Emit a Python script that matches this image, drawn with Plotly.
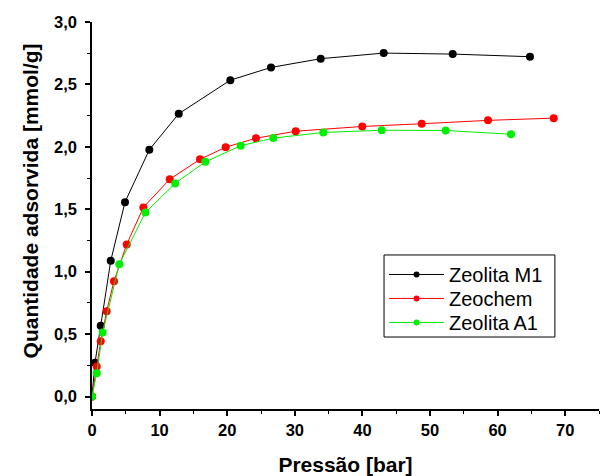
import plotly.graph_objects as go

# Zeolita M1
m1_p = [0.0, 0.44, 1.29, 2.77, 4.88, 8.48, 12.83, 20.46, 26.48, 33.83, 43.15, 53.36, 64.79]
m1_q = [0.0, 0.27, 0.567, 1.087, 1.557, 1.977, 2.265, 2.534, 2.636, 2.706, 2.751, 2.743, 2.722]

# Zeochem
zc_p = [0.0, 0.70, 1.29, 2.17, 3.25, 5.13, 7.6, 11.5, 15.98, 19.78, 24.26, 30.13, 39.98, 48.77, 58.58, 68.3]
zc_q = [0.0, 0.24, 0.443, 0.683, 0.924, 1.218, 1.515, 1.74, 1.90, 1.997, 2.069, 2.125, 2.163, 2.185, 2.212, 2.23]

# Zeolita A1
a1_p = [0.0, 0.70, 1.58, 4.04, 7.9, 12.3, 16.76, 22.0, 26.82, 34.22, 42.86, 52.32, 61.98]
a1_q = [0.0, 0.187, 0.513, 1.06, 1.474, 1.707, 1.88, 2.009, 2.07, 2.115, 2.133, 2.131, 2.101]

series = [
    ("Zeolita M1", m1_p, m1_q, "#000000"),
    ("Zeochem", zc_p, zc_q, "#ff0000"),
    ("Zeolita A1", a1_p, a1_q, "#00ee00"),
]

legend_ids = ["legend", "legend2", "legend3"]
legend_tops = [0.398, 0.336, 0.274]

fig = go.Figure()
for name, p, q, c in series:
    fig.add_trace(go.Scatter(
        x=p, y=q, name=name, mode="lines+markers", showlegend=False,
        line=dict(color=c, width=1),
        marker=dict(color=c, size=8, line=dict(width=0)),
    ))
# legend entries (small symbol like the original legend), one row each
for (name, p, q, c), lid in zip(series, legend_ids):
    fig.add_trace(go.Scatter(
        x=[None], y=[None], name=name, mode="lines+markers", legend=lid,
        line=dict(color=c, width=1),
        marker=dict(color=c, size=6, line=dict(width=0)),
    ))

font_main = "Liberation Sans, Arial, sans-serif"
legend_common = dict(
    x=0.576, xanchor="left", yanchor="top",
    borderwidth=0, bgcolor="rgba(0,0,0,0)",
    font=dict(size=20, family=font_main),
    itemwidth=55,
)

fig.update_layout(
    width=600, height=476,
    margin=dict(l=92, r=1, t=22, b=67),
    paper_bgcolor="white", plot_bgcolor="white",
    separators=",.",
    font=dict(family=font_main, color="black"),
    showlegend=True,
    legend=dict(y=legend_tops[0], **legend_common),
    legend2=dict(y=legend_tops[1], **legend_common),
    legend3=dict(y=legend_tops[2], **legend_common),
    shapes=[dict(
        type="rect", xref="paper", yref="paper",
        x0=0.576, x1=0.913, y0=0.186, y1=0.398,
        line=dict(color="black", width=1), fillcolor="white", layer="below",
    )],
    xaxis=dict(
        range=[0, 75], dtick=10, tick0=0,
        showgrid=False, zeroline=False,
        showline=True, linecolor="black", linewidth=1.5,
        ticks="outside", ticklen=5, tickwidth=1.5, tickcolor="black",
        minor=dict(dtick=5, ticks="outside", ticklen=3, tickwidth=1, tickcolor="black"),
        tickfont=dict(size=16.5, family=font_main, weight="bold"),
        title=dict(text="<b>Pressão [bar]</b>", font=dict(size=21, family=font_main), standoff=22),
    ),
    yaxis=dict(
        range=[-0.1, 3.0], dtick=0.5, tick0=0, tickformat=".1f",
        showgrid=False, zeroline=False,
        showline=True, linecolor="black", linewidth=1.5,
        ticks="outside", ticklen=5, tickwidth=1.5, tickcolor="black",
        minor=dict(dtick=0.25, ticks="outside", ticklen=3, tickwidth=1, tickcolor="black"),
        tickfont=dict(size=16.5, family=font_main, weight="bold"),
        ticklabelstandoff=5,
        title=dict(text="<b>&nbsp;&nbsp;&nbsp;&nbsp;&nbsp;Quantidade adsorvida [mmol/g]</b>",
                   font=dict(size=21, family=font_main), standoff=10),
    ),
)

fig.write_html("out.html")
